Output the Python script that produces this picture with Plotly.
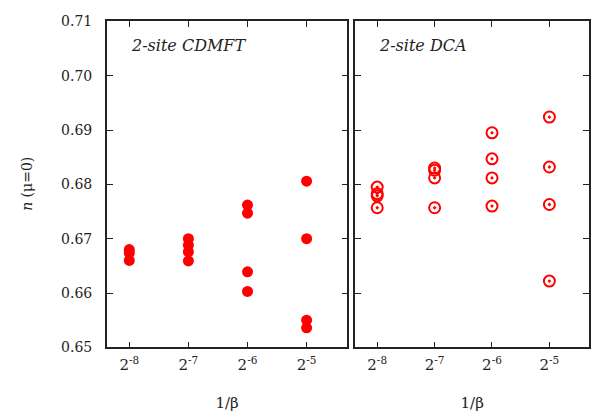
import plotly.graph_objects as go

# Inverse temperature exponents: 1/beta = 2^k
cdmft_k = [-8, -8, -8, -7, -7, -7, -7, -6, -6, -6, -6, -5, -5, -5, -5]
cdmft_n = [0.6680, 0.6674, 0.6660,
           0.6700, 0.6688, 0.6676, 0.6659,
           0.6762, 0.6747, 0.6639, 0.6603,
           0.6806, 0.6700, 0.6550, 0.6536]

dca_k = [-8, -8, -8, -8, -7, -7, -7, -7, -6, -6, -6, -6, -5, -5, -5, -5]
dca_n = [0.6795, 0.6783, 0.6779, 0.6757,
         0.6830, 0.6826, 0.6812, 0.6757,
         0.6895, 0.6847, 0.6812, 0.6760,
         0.6924, 0.6832, 0.6763, 0.6622]

tick_k = [-8, -7, -6, -5]
tick_text = ["2<sup>-8</sup>", "2<sup>-7</sup>", "2<sup>-6</sup>", "2<sup>-5</sup>"]
y_ticks = [0.65, 0.66, 0.67, 0.68, 0.69, 0.70, 0.71]

W, H = 591, 413
FONT = "DejaVu Serif"
RED = "#ff0000"
AX = "#222222"
TXT = "#222222"

fig = go.Figure()
fig.add_trace(go.Scatter(
    x=cdmft_k, y=cdmft_n, mode="markers", xaxis="x", yaxis="y",
    marker=dict(symbol="circle", size=11, color=RED, line=dict(width=0)),
    showlegend=False))
fig.add_trace(go.Scatter(
    x=dca_k, y=dca_n, mode="markers", xaxis="x2", yaxis="y2",
    marker=dict(symbol="circle-open-dot", size=11, color=RED,
                line=dict(width=2, color=RED)),
    showlegend=False))

xr = [-8.38, -4.31]
yr = [0.65, 0.71]
ydom = [(H - 353) / H, (H - 14) / H]

common_x = dict(range=xr, tickmode="array", tickvals=tick_k, ticktext=tick_text,
                ticks="inside", ticklen=6, tickwidth=1.2, tickcolor=AX,
                showline=True, linewidth=1.5, linecolor=AX, mirror="ticks",
                showgrid=False, zeroline=False, ticklabelstandoff=3,
                tickfont=dict(family=FONT, size=15, color=TXT),
                title=dict(text="1/β", font=dict(family=FONT, size=15, color=TXT),
                           standoff=24))
common_y = dict(range=yr, tickmode="array", tickvals=y_ticks,
                ticks="inside", ticklen=6, tickwidth=1.2, tickcolor=AX,
                showline=True, linewidth=1.5, linecolor=AX, mirror="ticks",
                showgrid=False, zeroline=False,
                tickfont=dict(family=FONT, size=14, color=TXT))

fig.update_layout(
    width=W, height=H,
    margin=dict(l=0, r=0, t=0, b=0),
    paper_bgcolor="white", plot_bgcolor="white",
    font=dict(family=FONT, color=TXT),
    xaxis=dict(domain=[107 / W, 348 / W], anchor="y", **common_x),
    xaxis2=dict(domain=[356 / W, 590 / W], anchor="y2", **common_x),
    yaxis=dict(domain=ydom, anchor="x", tickformat=".2f", ticklabelstandoff=10,
               **common_y),
    yaxis2=dict(domain=ydom, anchor="x2", showticklabels=False, **common_y),
    annotations=[
        dict(text="<i>2-site CDMFT</i>", x=-8.0, y=0.7055, xref="x", yref="y",
             xanchor="left", yanchor="middle", showarrow=False,
             font=dict(family=FONT, size=16, color=TXT)),
        dict(text="<i>2-site DCA</i>", x=-8.0, y=0.7055, xref="x2", yref="y2",
             xanchor="left", yanchor="middle", showarrow=False,
             font=dict(family=FONT, size=16, color=TXT)),
        dict(text="<i>n</i> (μ=0)", x=27 / W, y=(H - 183) / H, xref="paper", yref="paper",
             textangle=-90, xanchor="center", yanchor="middle", showarrow=False,
             font=dict(family=FONT, size=14, color=TXT)),
    ],
)

fig.write_html("out.html")
